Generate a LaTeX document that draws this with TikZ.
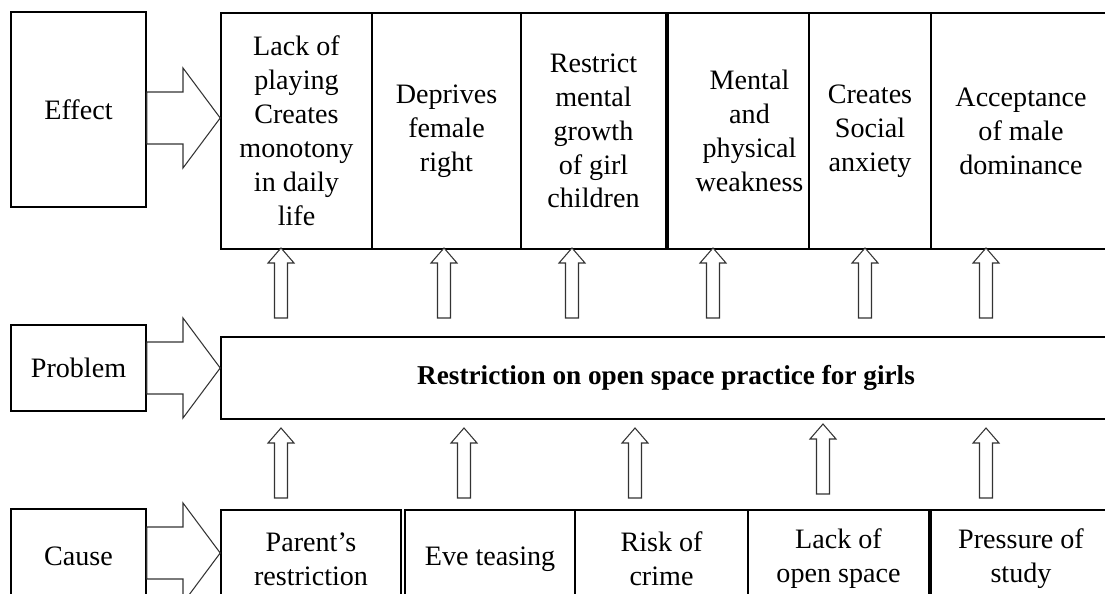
\documentclass[tikz,border=0pt]{standalone}
\usepackage{fontspec}
\setmainfont{Liberation Serif}
\usetikzlibrary{positioning}
\newcommand{\hollowup}[3]{\draw[hollow] ({#1-6.5},#3) -- ({#1-6.5},{#2+15}) -- ({#1-13},{#2+15}) -- (#1,#2) -- ({#1+13},{#2+15}) -- ({#1+6.5},{#2+15}) -- ({#1+6.5},#3) -- cycle;}
\newcommand{\bigarrow}[3]{\draw[hollow] (#1.east |- 0,{#3-26}) -- (183,{#3-26}) -- (183,{#3-50}) -- (#2.west |- 0,#3) -- (183,{#3+50}) -- (183,{#3+26}) -- (#1.east |- 0,{#3+26}) -- cycle;}

\begin{document}
\begin{tikzpicture}[x=0.02cm, y=-0.02cm]

\tikzset{
    cell/.style={draw, line width=0.9pt, inner sep=0pt, align=center,
        font=\fontsize{16}{19.3}\selectfont},
    hollow/.style={draw=black!80, line width=0.6pt, fill=white}
}
% variables
\def\px{0.02cm}
\def\effy{131}
\def\effh{236}
\def\causey{559}
\def\causeh{98}

\useasboundingbox (0,0) rectangle (1105,594);
\clip (0,0) rectangle (1105,594);

% ----------- left labels ----------- %
\node[cell, minimum width=135*\px, minimum height=195*\px] (effect) at (78.5,109.5) {Effect};
\node[cell, minimum width=135*\px, minimum height=86*\px] (problem) at (78.5,368) {Problem};
\node[cell, minimum width=135*\px, minimum height=94*\px] (cause) at (78.5,556) {Cause};

% ------------ effect row ---------%
\node[cell, minimum width=151*\px, minimum height=\effh*\px] (e1) at (296.5,\effy) {Lack of\\playing\\Creates\\monotony\\in daily\\life};
\node[cell, minimum width=149*\px, minimum height=\effh*\px] (e2) at (446.5,\effy) {Deprives\\female\\right};
\node[cell, minimum width=145*\px, minimum height=\effh*\px] (e3) at (593.5,\effy) {Restrict\\mental\\growth\\of girl\\children};
\node[cell, minimum width=141*\px, minimum height=\effh*\px,
    label={[align=center, font=\fontsize{16}{19.3}\selectfont, xshift=11*\px]center:Mental\\and\\physical\\weakness}] (e4) at (738.5,\effy) {};
\node[cell, minimum width=122*\px, minimum height=\effh*\px] (e5) at (870,\effy) {Creates\\Social\\anxiety};
\node[cell, minimum width=180*\px, minimum height=\effh*\px] (e6) at (1021,\effy) {Acceptance\\of male\\dominance};

% ------------ problem row ---------%
\node[cell, minimum width=890*\px, minimum height=82*\px] (prob) at (666,378) {\fontsize{15.5}{19.3}\selectfont\bfseries Restriction on open space practice for girls};

% ------------ cause row ---------%
\node[cell, minimum width=180*\px, minimum height=\causeh*\px] (c1) at (311,\causey) {Parent’s\\restriction};
\node[cell, minimum width=170*\px, minimum height=\causeh*\px] (c2) at (490,\causey) {Eve teasing};
\node[cell, minimum width=173*\px, minimum height=\causeh*\px] (c3) at (661.5,\causey) {Risk of\\crime};
\node[cell, minimum width=181*\px, minimum height=\causeh*\px] (c4) at (838.5,\causey) {Lack of\\open space};
\node[cell, minimum width=180*\px, minimum height=\causeh*\px] (c5) at (1021,\causey) {Pressure of\\study};

% big arrows
\bigarrow{effect}{e1}{118}
\bigarrow{problem}{prob}{368}
\bigarrow{cause}{c1}{553}

% problem -> effect
\hollowup{281}{248}{318}
\hollowup{444}{248}{318}
\hollowup{572}{248}{318}
\hollowup{713}{248}{318}
\hollowup{865}{248}{318}
\hollowup{986}{248}{318}

% cause -> problem
\hollowup{281}{428}{498}
\hollowup{464}{428}{498}
\hollowup{635}{428}{498}
\hollowup{823}{424}{494}
\hollowup{986}{428}{498}

\end{tikzpicture}
\end{document}
